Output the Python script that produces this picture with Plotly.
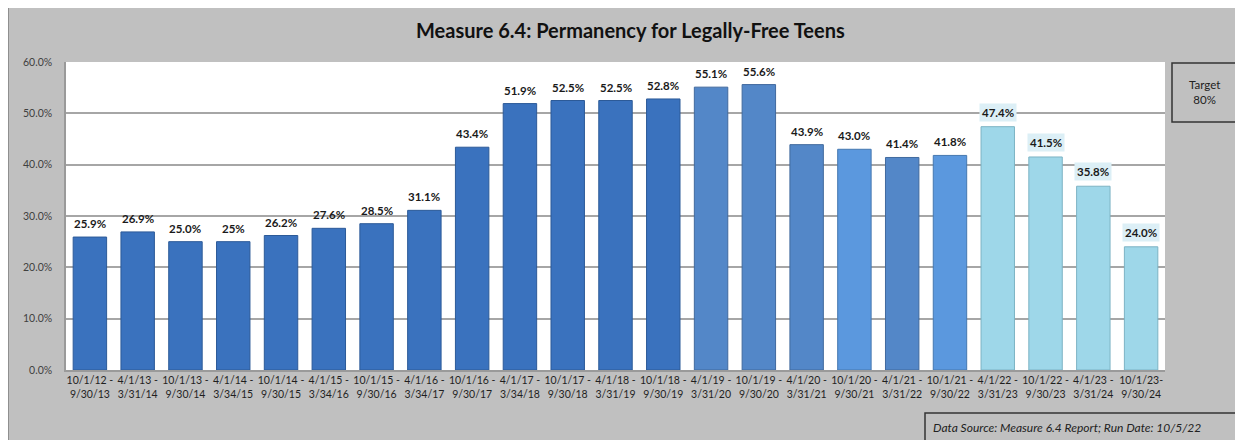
import plotly.graph_objects as go

periods = ["10/1/12 -<br>9/30/13", "4/1/13 -<br>3/31/14", "10/1/13 -<br>9/30/14", "4/1/14 -<br>3/34/15",
           "10/1/14 -<br>9/30/15", "4/1/15 -<br>3/34/16", "10/1/15 -<br>9/30/16", "4/1/16 -<br>3/34/17",
           "10/1/16 -<br>9/30/17", "4/1/17 -<br>3/34/18", "10/1/17 -<br>9/30/18", "4/1/18 -<br>3/31/19",
           "10/1/18 -<br>9/30/19", "4/1/19 -<br>3/31/20", "10/1/19 -<br>9/30/20", "4/1/20 -<br>3/31/21",
           "10/1/20 -<br>9/30/21", "4/1/21 -<br>3/31/22", "10/1/21 -<br>9/30/22", "4/1/22 -<br>3/31/23",
           "10/1/22 -<br>9/30/23", "4/1/23 -<br>3/31/24", "10/1/23-<br>9/30/24"]
values = [0.259, 0.269, 0.250, 0.250, 0.262, 0.276, 0.285, 0.311, 0.434, 0.519, 0.525, 0.525,
          0.528, 0.551, 0.556, 0.439, 0.430, 0.414, 0.418, 0.474, 0.415, 0.358, 0.240]
labels = ["25.9%", "26.9%", "25.0%", "25%", "26.2%", "27.6%", "28.5%", "31.1%", "43.4%", "51.9%",
          "52.5%", "52.5%", "52.8%", "55.1%", "55.6%", "43.9%", "43.0%", "41.4%", "41.8%", "47.4%",
          "41.5%", "35.8%", "24.0%"]
groups = ["a"] * 13 + ["b", "b", "b", "c", "b", "c"] + ["d"] * 4

palette = {"a": "#3A72BE", "b": "#5387C8", "c": "#5B98DE", "d": "#9ED7E9"}
edge = {"a": "#2C5A98", "b": "#40699E", "c": "#4678B0", "d": "#7DB3C4"}

OFF = 8  # page body margin
W, H = 1243 - OFF, 440 - OFF
L, R, T, B = 66 - OFF, 1165 - OFF, 62 - OFF, 370 - OFF

def px(x):
    return (x - OFF - L) / (R - L)

def py(y):
    return (B - (y - OFF)) / (B - T)

fig = go.Figure()
fig.add_trace(go.Bar(
    x=periods, y=values,
    marker=dict(color=[palette[g] for g in groups],
                line=dict(color=[edge[g] for g in groups], width=1)),
    hoverinfo="skip",
))

annotations = []
for p, v, lab, g in zip(periods, values, labels, groups):
    a = dict(x=p, y=v, xref="x", yref="y", text="<b>" + lab + "</b>", showarrow=False,
             xanchor="center", yanchor="bottom", yshift=5,
             font=dict(family="Lato", size=11.5, color="#1a1a1a"))
    if g == "d":
        a.update(bgcolor="#DCEFF6", borderpad=2)
    annotations.append(a)

annotations.append(dict(x=px(630), y=py(30), xref="paper", yref="paper", xanchor="center",
                        yanchor="middle",
                        text="<b>Measure 6.4: Permanency for Legally-Free Teens</b>",
                        showarrow=False, font=dict(family="Lato", size=20, color="#111111")))
annotations.append(dict(x=px(1204), y=py(92), xref="paper", yref="paper", xanchor="center",
                        yanchor="middle", text="Target<br>80%", showarrow=False,
                        font=dict(family="Lato", size=11.5, color="#222222")))
annotations.append(dict(x=px(931), y=py(427), xref="paper", yref="paper", xanchor="left",
                        yanchor="middle",
                        text="<i>Data Source: Measure 6.4 Report; Run Date: 10/5/22</i>",
                        showarrow=False, font=dict(family="Lato", size=12, color="#222222")))

shapes = [
    dict(type="rect", xref="paper", yref="paper", x0=px(8), x1=px(1260), y0=py(7), y1=py(460),
         fillcolor="rgba(0,0,0,0)", line=dict(color="#7F7F7F", width=1.5)),
    dict(type="rect", xref="paper", yref="paper", x0=px(1172), x1=px(1237), y0=py(63), y1=py(122),
         fillcolor="rgba(0,0,0,0)", line=dict(color="#333333", width=1.5)),
    dict(type="rect", xref="paper", yref="paper", x0=px(925), x1=px(1240), y0=py(413), y1=py(460),
         fillcolor="rgba(0,0,0,0)", line=dict(color="#333333", width=1.5)),
]

fig.update_layout(
    width=W, height=H,
    margin=dict(l=L, r=W - R, t=T, b=H - B, pad=0),
    paper_bgcolor="#C0C0C0", plot_bgcolor="white",
    showlegend=False, bargap=0.3,
    annotations=annotations, shapes=shapes,
    font=dict(family="Lato", color="#262626"),
)
fig.update_xaxes(type="category", showgrid=False, showline=True, linecolor="#9A9A9A", linewidth=1.5,
                 ticks="", tickfont=dict(family="Lato", size=10.5, color="#1f1f1f"), tickangle=0)
fig.update_yaxes(range=[0, 0.6], dtick=0.1, tickformat=".1%", showgrid=True, gridcolor="#A6A6A6",
                 gridwidth=1.5, showline=True, linecolor="#9A9A9A", linewidth=1.5, zeroline=False,
                 ticks="", ticklabelstandoff=10, tickfont=dict(family="Lato", size=10.5, color="#404040"))

fig.write_html("out.html")
